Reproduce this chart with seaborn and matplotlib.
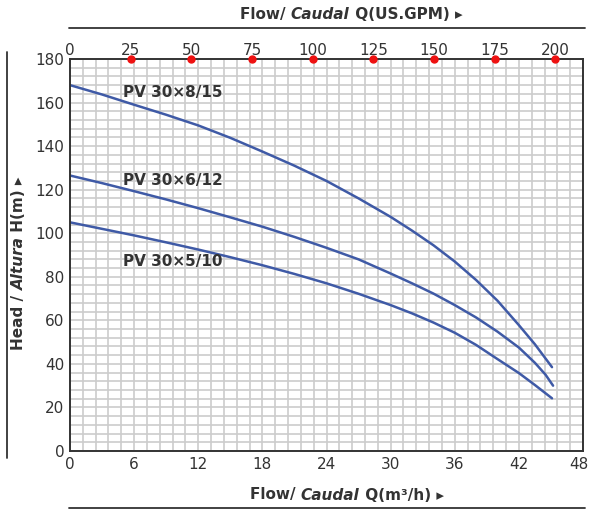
import numpy as np
import pandas as pd
import matplotlib
matplotlib.use("Agg")
import matplotlib.pyplot as plt
import matplotlib.transforms as mtransforms
import seaborn as sns

# curves (Q in m3/h, H in m)
q_815 = [0, 3, 6, 9, 12, 15, 18, 21, 24, 27, 30, 32, 34, 36, 38, 40, 42, 43.5, 45.1]
h_815 = [168, 163.7, 159, 154.4, 149.5, 143.8, 137.5, 131, 124, 116, 107.5,
         101.2, 94.5, 87, 78.5, 69, 57.8, 49, 38.5]
q_612 = [0, 3, 6, 9, 12, 15, 18, 21, 24, 27, 30, 32, 34, 36, 38, 40, 42, 43.5, 44.5, 45.2]
h_612 = [126.5, 123, 119.3, 115.5, 111.5, 107.3, 103, 98.3, 93.3, 88, 81.5,
         77, 72.3, 67, 61.3, 54.8, 47.5, 40.5, 35, 30]
q_510 = [0, 3, 6, 9, 12, 15, 18, 21, 24, 27, 30, 32, 34, 36, 38, 40, 42, 43.5, 45.1]
h_510 = [105, 102, 99, 95.8, 92.5, 89, 85.3, 81.3, 77, 72.2, 67, 63.2, 59,
         54.3, 48.7, 42.2, 35.8, 30.3, 24.2]
models = ["PV 30×8/15", "PV 30×6/12", "PV 30×5/10"]
label_pos = [(5.0, 164.5), (5.0, 124), (5.0, 87)]

x_ticks = [0, 6, 12, 18, 24, 30, 36, 42, 48]
y_ticks = [0, 20, 40, 60, 80, 100, 120, 140, 160, 180]
gpm_ticks = [0, 25, 50, 75, 100, 125, 150, 175, 200]
GPM = 0.2271  # m3/h per US gallon/min

df = pd.concat([
    pd.DataFrame({"Q": q_815, "H": h_815, "model": models[0]}),
    pd.DataFrame({"Q": q_612, "H": h_612, "model": models[1]}),
    pd.DataFrame({"Q": q_510, "H": h_510, "model": models[2]}),
])

sns.set_theme(style="white")
plt.rcParams["font.family"] = ["DejaVu Sans"]
txt = "#333333"
blue = "#3f5aa6"

fig = plt.figure(figsize=(5.91, 5.13), dpi=100)
ax = fig.add_axes([70 / 591, 1 - 451 / 513, 513 / 591, 392 / 513])

# grid
ax.set_xticks(np.arange(0, 48.01, 1.2), minor=True)
ax.set_yticks(np.arange(0, 180.1, 4), minor=True)
ax.grid(which="both", color="#cccccc", linewidth=1.2)
ax.set_axisbelow(True)

sns.lineplot(data=df, x="Q", y="H", hue="model", palette=[blue] * 3,
             sort=False, estimator=None, linewidth=1.8, legend=False, ax=ax)

for name, (lx, ly) in zip(models, label_pos):
    ax.text(lx, ly, name, fontsize=11, fontweight="bold", color=txt,
            va="center", ha="left")

ax.set_xlim(0, 48)
ax.set_ylim(0, 180)
ax.set_xticks(x_ticks)
ax.set_yticks(y_ticks)
ax.tick_params(which="both", length=0, labelsize=11, labelcolor=txt, pad=4)
ax.set_xlabel("")
ax.set_ylabel("")
for s in ax.spines.values():
    s.set_color("#333333")
    s.set_linewidth(1.4)

# nudge the last bottom tick label so it stays inside the figure
last = ax.get_xticklabels()[-1]
last.set_transform(last.get_transform() +
                   mtransforms.ScaledTranslation(-4 / 100, 0, fig.dpi_scale_trans))

# top US.GPM scale with red dots
top = ax.secondary_xaxis("top", functions=(lambda q: q / GPM, lambda g: g * GPM))
top.set_xticks(gpm_ticks)
top.tick_params(length=0, labelsize=11, labelcolor=txt, pad=1)
top.spines["top"].set_visible(False)
ax.plot([g * GPM for g in gpm_ticks[1:]], [180] * (len(gpm_ticks) - 1), "o",
        color="#ee1111", markersize=5, clip_on=False, zorder=5)


def mixed_label(parts, x, y, rotation=0):
    # chain each piece of text after the previous one (bold / bold italic)
    prev = None
    for text, style in parts:
        kw = dict(fontsize=11, fontweight="bold", style=style, color=txt,
                  rotation=rotation)
        if prev is None:
            if rotation == 0:
                prev = fig.text(x, y, text, ha="left", va="center", **kw)
            else:
                prev = fig.text(x, y, text, ha="center", va="bottom", **kw)
        elif rotation == 0:
            prev = ax.annotate(text, xy=(1, 0.5), xycoords=prev, ha="left",
                               va="center", annotation_clip=False, **kw)
        else:
            prev = ax.annotate(text, xy=(0.5, 1), xycoords=prev, ha="center",
                               va="bottom", annotation_clip=False, **kw)


mixed_label([("Flow/ ", "normal"), ("Caudal", "italic"), (" Q(US.GPM) ▸", "normal")],
            240 / 591, 1 - 15 / 513)
mixed_label([("Flow/ ", "normal"), ("Caudal", "italic"), (" Q(m³/h) ▸", "normal")],
            250 / 591, 1 - 495 / 513)
mixed_label([("Head / ", "normal"), ("Altura", "italic"), (" H(m) ▸", "normal")],
            19 / 591, 1 - 350 / 513, rotation=90)

# rules around the axis titles
fig.add_artist(plt.Line2D([69 / 591, 585 / 591], [1 - 28 / 513] * 2,
                          color="#333333", linewidth=1.3))
fig.add_artist(plt.Line2D([69 / 591, 585 / 591], [1 - 508 / 513] * 2,
                          color="#333333", linewidth=1.3))
fig.add_artist(plt.Line2D([7 / 591] * 2, [1 - 52 / 513, 1 - 458 / 513],
                          color="#333333", linewidth=1.3))

fig.savefig("out.png", dpi=100)
